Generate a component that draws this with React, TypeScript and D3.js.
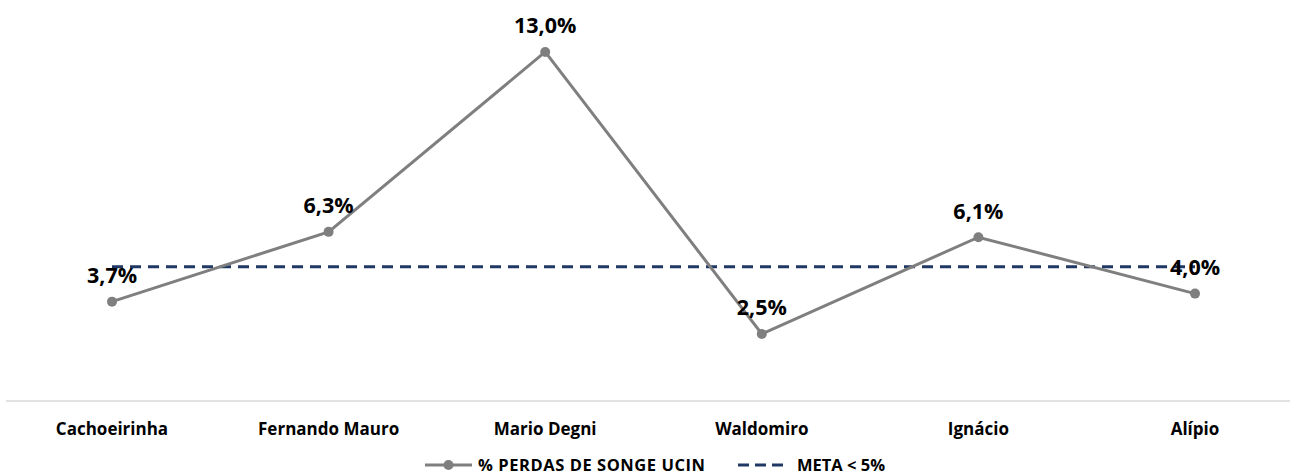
import React from "react";
import * as d3 from "d3";

const categories = ["Cachoeirinha", "Fernando Mauro", "Mario Degni", "Waldomiro", "Ignácio", "Alípio"];
const perdas = [3.7, 6.3, 13.0, 2.5, 6.1, 4.0];
const meta = [5, 5, 5, 5, 5, 5];
const seriesNames = ["% PERDAS DE SONGE UCIN", "META < 5%"];

const W = 1290;
const H = 476;
const FONT = "'Open Sans', sans-serif";

export default function App() {
  const x = d3.scalePoint<string>().domain(categories).range([112, 1195]);
  const y = d3.scaleLinear().domain([0, 14]).range([401, 25.1]);
  const line = d3
    .line<number>()
    .x((_, i) => x(categories[i]) as number)
    .y((d) => y(d));
  const fmt = (v: number) => v.toFixed(1).replace(".", ",") + "%";

  return (
    <svg width={W} height={H} style={{ position: "absolute", left: 0, top: 0, background: "#fff" }} fontFamily={FONT}>
      <line x1={6} x2={W} y1={401} y2={401} stroke="#d9d9d9" strokeWidth={1.5} />
      {categories.map((c) => (
        <text key={c} x={x(c)} y={435} textAnchor="middle" fontSize={17} fontWeight={700} fill="#000">
          {c}
        </text>
      ))}
      <path d={line(meta) || ""} fill="none" stroke="#1f3864" strokeWidth={3} strokeDasharray="11,7" />
      <path d={line(perdas) || ""} fill="none" stroke="#7f7f7f" strokeWidth={3} />
      {perdas.map((v, i) => (
        <circle key={i} cx={x(categories[i])} cy={y(v)} r={5} fill="#7f7f7f" />
      ))}
      {perdas.map((v, i) => (
        <text key={"l" + i} x={x(categories[i])} y={y(v) - 18.5} textAnchor="middle" fontSize={21.5} fontWeight={700} fill="#000">
          {fmt(v)}
        </text>
      ))}
      <g>
        <line x1={425} x2={472} y1={465} y2={465} stroke="#7f7f7f" strokeWidth={3} />
        <circle cx={448.5} cy={465} r={5} fill="#7f7f7f" />
        <text x={478} y={470.5} fontSize={16.5} fontWeight={700} fill="#000" textLength={227} lengthAdjust="spacing">
          {seriesNames[0]}
        </text>
        <line x1={738} x2={783} y1={465} y2={465} stroke="#1f3864" strokeWidth={3} strokeDasharray="11,6" />
        <text x={797} y={470.5} fontSize={16.5} fontWeight={700} fill="#000">
          {seriesNames[1]}
        </text>
      </g>
    </svg>
  );
}
